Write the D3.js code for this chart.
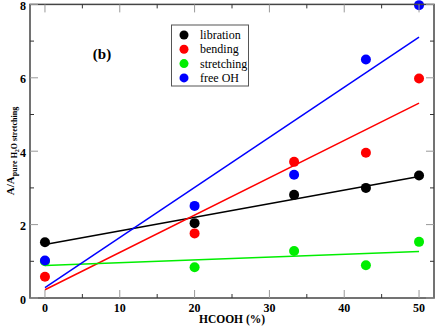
<!DOCTYPE html>
<html>
<head>
<meta charset="utf-8">
<script src="https://cdn.jsdelivr.net/npm/d3@7"></script>
<style>
  body { margin: 0; background: #fff; }
  text { font-family: "Liberation Serif", "Times New Roman", serif; }
</style>
</head>
<body>
<svg id="chart" width="436" height="327"></svg>
<script>
// HCOOH concentration (%)
var hcooh = [0, 20, 33.3, 42.9, 50];

// relative areas A / A(pure H2O stretching)
var libration  = [1.52, 2.04, 2.81, 3.00, 3.34];
var bending    = [0.58, 1.76, 3.71, 3.96, 5.98];
var stretching = [1.00, 0.84, 1.28, 0.89, 1.53];
var freeOH     = [1.02, 2.51, 3.36, 6.50, 7.98];

var seriesNames  = ["libration", "bending", "stretching", "free OH"];
var seriesColors = ["#000000", "#ff0000", "#00ee00", "#0000ff"];

var xTicks = [0, 10, 20, 30, 40, 50];
var yTicks = [0, 2, 4, 6, 8];

var svg = d3.select("#chart");

var x = d3.scaleLinear().domain([-2, 52]).range([30, 434]);
var y = d3.scaleLinear().domain([0, 8]).range([298, 4.4]);

// least squares fit of one series
function fit(xs, ys) {
  var mx = d3.mean(xs), my = d3.mean(ys);
  var sxy = d3.sum(xs, function(v, i) { return (v - mx) * (ys[i] - my); });
  var sxx = d3.sum(xs, function(v) { return (v - mx) * (v - mx); });
  var b = sxy / sxx;
  return { a: my - b * mx, b: b };
}

var allSeries = [libration, bending, stretching, freeOH];

// regression lines
allSeries.forEach(function(vals, k) {
  var f = fit(hcooh, vals);
  var x0 = d3.min(hcooh), x1 = d3.max(hcooh);
  svg.append("line")
    .attr("x1", x(x0)).attr("y1", y(f.a + f.b * x0))
    .attr("x2", x(x1)).attr("y2", y(f.a + f.b * x1))
    .attr("stroke", seriesColors[k])
    .attr("stroke-width", 1.5);
});

// points
allSeries.forEach(function(vals, k) {
  svg.append("g").selectAll("circle")
    .data(vals)
    .enter().append("circle")
    .attr("cx", function(d, i) { return x(hcooh[i]); })
    .attr("cy", function(d) { return y(d); })
    .attr("r", 5)
    .attr("fill", seriesColors[k]);
});

// frame
svg.append("rect")
  .attr("x", 30).attr("y", 4.4)
  .attr("width", 404).attr("height", 293.6)
  .attr("fill", "none")
  .attr("stroke", "#444")
  .attr("stroke-width", 1.5);

// ticks (inward, on all four sides)
var xMinor = d3.range(5, 50, 10);
var yMinor = d3.range(1, 8, 2);
var tg = svg.append("g").attr("stroke-width", 1);

xTicks.forEach(function(t) {
  tg.append("line").attr("x1", x(t)).attr("x2", x(t)).attr("y1", 298).attr("y2", 290).attr("stroke", "#999");
  tg.append("line").attr("x1", x(t)).attr("x2", x(t)).attr("y1", 4.4).attr("y2", 12.4).attr("stroke", "#999");
});
xMinor.forEach(function(t) {
  tg.append("line").attr("x1", x(t)).attr("x2", x(t)).attr("y1", 298).attr("y2", 294).attr("stroke", "#333");
  tg.append("line").attr("x1", x(t)).attr("x2", x(t)).attr("y1", 4.4).attr("y2", 8.4).attr("stroke", "#333");
});
yTicks.forEach(function(t) {
  tg.append("line").attr("x1", 30).attr("x2", 38).attr("y1", y(t)).attr("y2", y(t)).attr("stroke", "#999");
  tg.append("line").attr("x1", 434).attr("x2", 426).attr("y1", y(t)).attr("y2", y(t)).attr("stroke", "#999");
});
yMinor.forEach(function(t) {
  tg.append("line").attr("x1", 30).attr("x2", 34).attr("y1", y(t)).attr("y2", y(t)).attr("stroke", "#333");
  tg.append("line").attr("x1", 434).attr("x2", 430).attr("y1", y(t)).attr("y2", y(t)).attr("stroke", "#333");
});

// tick labels
svg.append("g").selectAll("text")
  .data(xTicks).enter().append("text")
  .attr("x", function(d) { return x(d); })
  .attr("y", 312)
  .attr("text-anchor", "middle")
  .attr("font-size", 12)
  .attr("font-weight", "bold")
  .text(function(d) { return d; });

svg.append("g").selectAll("text")
  .data(yTicks).enter().append("text")
  .attr("x", 26)
  .attr("y", function(d) { return y(d) + 5.5; })
  .attr("text-anchor", "end")
  .attr("font-size", 12)
  .attr("font-weight", "bold")
  .text(function(d) { return d; });

// axis titles
svg.append("text")
  .attr("x", 232).attr("y", 323)
  .attr("text-anchor", "middle")
  .attr("font-size", 11.5)
  .attr("font-weight", "bold")
  .text("HCOOH (%)");

var yt = svg.append("text")
  .attr("transform", "translate(14,151) rotate(-90)")
  .attr("text-anchor", "middle")
  .attr("font-size", 11)
  .attr("font-weight", "bold");
yt.append("tspan").text("A/A");
yt.append("tspan").attr("font-size", 8).attr("dy", 3).text("pure H");
yt.append("tspan").attr("font-size", 6).attr("dy", 2).text("2");
yt.append("tspan").attr("font-size", 8).attr("dy", -2).text("O stretching");

// panel label
svg.append("text")
  .attr("x", 102).attr("y", 59)
  .attr("text-anchor", "middle")
  .attr("font-size", 15)
  .attr("font-weight", "bold")
  .text("(b)");

// legend
var lg = svg.append("g");
lg.append("rect")
  .attr("x", 171.5).attr("y", 25)
  .attr("width", 77).attr("height", 61)
  .attr("fill", "#fff")
  .attr("stroke", "#555")
  .attr("stroke-width", 1);
seriesNames.forEach(function(name, k) {
  var cy = 35 + k * 14.3;
  lg.append("circle").attr("cx", 184).attr("cy", cy).attr("r", 4.5).attr("fill", seriesColors[k]);
  lg.append("text").attr("x", 200).attr("y", cy + 4)
    .attr("font-size", 12)
    .text(name);
});
</script>
</body>
</html>
